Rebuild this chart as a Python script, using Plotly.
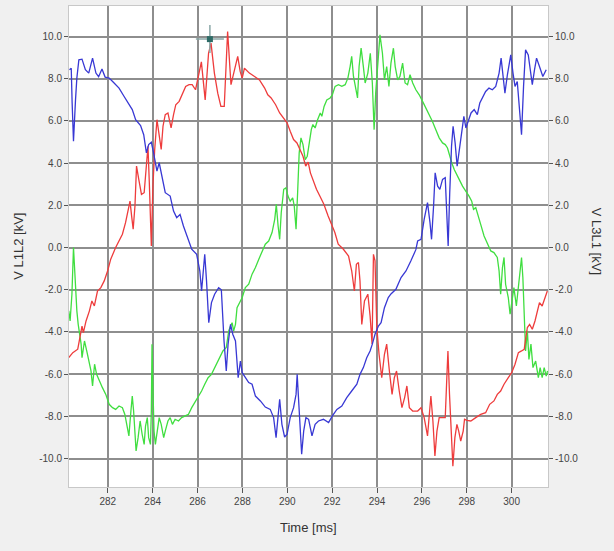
import plotly.graph_objects as go

# ---- data (time in ms, voltage in kV) ----
blue_t = [280.29, 280.37, 280.41, 280.47, 280.56, 280.62, 280.71, 280.85, 281.0, 281.15, 281.32, 281.47, 281.59, 281.74, 281.88,
          282.06, 282.28, 282.5, 282.72, 282.94, 283.09, 283.24, 283.46, 283.6, 283.72, 283.82, 283.94, 284.04, 284.19, 284.29,
          284.41, 284.56, 284.78, 284.93, 285.07, 285.22, 285.37, 285.59, 285.74, 285.96, 286.1, 286.18, 286.25, 286.32, 286.4,
          286.5, 286.62, 286.76, 286.94, 287.06, 287.18, 287.28, 287.36, 287.47, 287.57, 287.69, 287.81, 287.91, 287.99, 288.13,
          288.28, 288.43, 288.58, 288.8, 289.02, 289.24, 289.39, 289.5, 289.59, 289.66, 289.76, 289.88, 289.99, 290.13, 290.28,
          290.39, 290.44, 290.5, 290.58, 290.64, 290.73, 290.83, 290.95, 291.1, 291.24, 291.39, 291.61, 291.84, 292.01, 292.21,
          292.43, 292.65, 292.87, 293.1, 293.24, 293.39, 293.54, 293.69, 293.79, 293.91, 294.06, 294.18, 294.33, 294.5, 294.62,
          294.84, 295.07, 295.29, 295.51, 295.73, 295.81, 295.96, 296.1, 296.25, 296.36, 296.43, 296.52, 296.59, 296.7, 296.8,
          296.92, 297.04, 297.1, 297.17, 297.24, 297.32, 297.39, 297.48, 297.57, 297.66, 297.78, 297.87, 297.96, 298.07, 298.19,
          298.33, 298.47, 298.58, 298.7, 298.84, 298.99, 299.14, 299.29, 299.44, 299.53, 299.61, 299.7, 299.81, 299.96, 300.06,
          300.15, 300.25, 300.36, 300.44, 300.53, 300.62, 300.74, 300.84, 300.92, 301.02, 301.11, 301.24, 301.39, 301.54]
blue_v = [8.43, 8.5, 6.85, 5.04, 7.0, 8.03, 8.9, 8.93, 8.43, 8.27, 8.98, 8.27, 8.1, 8.46, 8.08,
          8.03, 7.8, 7.56, 7.17, 6.77, 6.54, 6.06, 5.78, 5.35, 4.49, 4.88, 4.99, 4.49, 3.62, 4.02,
          3.39, 2.6, 2.44, 1.73, 1.42, 1.57, 1.02, 0.31, -0.08, -0.32, -1.1, -2.06, -1.26, -0.32, -1.58,
          -3.56, -2.61, -2.21, -1.9, -2.0, -4.43, -5.85, -4.58, -3.64, -4.11, -4.43, -6.17, -5.38, -5.93, -6.17,
          -6.4, -6.48, -7.04, -7.27, -7.56, -7.67, -8.06, -9.01, -7.75, -7.19, -8.38, -8.98, -8.85, -8.06, -7.59,
          -6.96, -6.01, -7.27, -9.01, -9.8, -8.7, -8.06, -8.14, -8.93, -8.38, -8.22, -8.14, -8.3, -7.98, -7.67,
          -7.51, -7.11, -6.8, -6.48, -6.01, -5.69, -5.22, -4.9, -4.58, -4.11, -3.72, -3.56, -2.85, -2.37, -2.2,
          -1.98, -1.42, -1.11, -0.63, -0.1, 0.31, 0.39, 1.34, 2.13, 1.18, 0.39, 1.97, 3.54, 2.91, 2.76,
          3.23, 3.31, 1.81, 0.08, 2.6, 4.8, 5.75, 4.96, 3.86, 4.65, 5.59, 6.22, 5.67, 6.06, 6.38,
          6.54, 6.3, 6.85, 7.09, 7.4, 7.56, 7.48, 7.64, 8.27, 8.98, 8.03, 7.32, 8.19, 9.13, 8.27,
          7.64, 7.87, 6.54, 5.35, 7.64, 9.37, 9.13, 8.35, 7.72, 8.43, 8.98, 8.58, 8.11, 8.43]

red_t = [280.26, 280.44, 280.66, 280.76, 280.85, 280.91, 281.03, 281.18, 281.29, 281.4, 281.54, 281.69, 281.84, 281.99, 282.13,
         282.35, 282.5, 282.65, 282.79, 282.91, 282.99, 283.06, 283.13, 283.21, 283.28, 283.38, 283.5, 283.62, 283.71, 283.79,
         283.85, 283.94, 284.01, 284.09, 284.19, 284.29, 284.38, 284.46, 284.56, 284.68, 284.82, 284.93, 285.03, 285.18, 285.32,
         285.47, 285.62, 285.76, 285.91, 286.03, 286.17, 286.34, 286.49, 286.6, 286.75, 286.9, 287.04, 287.19, 287.34, 287.49,
         287.64, 287.79, 287.9, 287.99, 288.09, 288.31, 288.54, 288.76, 288.99, 289.13, 289.28, 289.48, 289.66, 289.84, 289.99,
         290.13, 290.28, 290.43, 290.55, 290.7, 290.82, 290.93, 291.03, 291.15, 291.3, 291.45, 291.63, 291.82, 291.97, 292.12,
         292.27, 292.5, 292.73, 292.87, 292.99, 293.08, 293.17, 293.24, 293.32, 293.44, 293.59, 293.69, 293.78, 293.84, 293.91,
         293.99, 294.09, 294.21, 294.33, 294.43, 294.55, 294.67, 294.77, 294.87, 294.99, 295.11, 295.23, 295.33, 295.44, 295.59,
         295.81, 295.96, 296.1, 296.25, 296.4, 296.49, 296.58, 296.67, 296.77, 296.92, 297.04, 297.11, 297.16, 297.23, 297.32,
         297.38, 297.47, 297.56, 297.64, 297.73, 297.84, 297.9, 298.0, 298.18, 298.4, 298.62, 298.84, 299.02, 299.21, 299.36,
         299.51, 299.66, 299.85, 300.0, 300.15, 300.3, 300.44, 300.56, 300.62, 300.7, 300.8, 300.92, 301.04, 301.14, 301.24,
         301.36, 301.48, 301.59]
red_v = [-5.22, -4.98, -4.82, -4.19, -3.72, -4.03, -3.48, -3.0, -2.53, -2.77, -2.06, -1.9, -1.58, -1.11, -0.55,
         0.0, 0.31, 0.63, 1.18, 1.89, 2.2, 1.5, 0.87, 1.97, 3.86, 3.23, 2.52, 2.6, 4.02, 4.8,
         3.07, 0.08, 2.91, 4.65, 6.06, 5.28, 4.65, 5.75, 6.3, 6.38, 5.67, 6.3, 6.77, 6.93, 7.32,
         7.64, 7.72, 7.72, 7.48, 8.11, 8.8, 7.0, 9.21, 9.69, 8.27, 7.32, 6.69, 6.69, 10.24, 7.72,
         8.35, 9.06, 8.35, 8.03, 8.5, 8.27, 8.11, 7.95, 7.56, 7.24, 7.09, 6.77, 6.38, 6.14, 5.91,
         5.51, 5.12, 4.96, 4.65, 4.33, 3.86, 4.05, 3.54, 3.15, 2.76, 2.44, 2.05, 1.5, 1.1, 0.71,
         0.16, -0.08, -0.4, -1.1, -2.06, -0.79, -0.71, -1.58, -3.64, -2.53, -2.21, -3.24, -4.58, -0.32, -0.63,
         -3.79, -5.06, -6.17, -5.06, -4.58, -5.85, -6.96, -6.17, -5.85, -6.8, -7.59, -7.11, -6.56, -7.59, -7.75,
         -7.75, -7.59, -8.06, -8.93, -7.04, -8.22, -9.88, -8.7, -8.06, -8.06, -8.06, -6.17, -4.9, -6.96, -9.33,
         -10.36, -9.01, -8.38, -8.7, -9.17, -8.7, -8.14, -8.19, -8.22, -8.06, -7.91, -7.83, -7.43, -7.27, -6.96,
         -6.8, -6.48, -6.17, -5.93, -5.53, -4.98, -4.9, -4.82, -4.35, -3.79, -3.64, -3.87, -3.48, -3.0, -2.61,
         -2.77, -2.37, -2.06]

green_t = [280.26, 280.32, 280.4, 280.44, 280.47, 280.51, 280.56, 280.62, 280.68, 280.74, 280.81, 280.85, 280.96, 281.06, 281.15,
           281.25, 281.32, 281.41, 281.5, 281.62, 281.76, 281.91, 282.06, 282.21, 282.35, 282.5, 282.65, 282.76, 282.87, 282.94,
           283.03, 283.09, 283.15, 283.21, 283.26, 283.35, 283.44, 283.53, 283.62, 283.68, 283.76, 283.82, 283.9, 283.94, 283.97,
           284.0, 284.06, 284.12, 284.19, 284.29, 284.38, 284.49, 284.56, 284.68, 284.78, 284.88, 285.0, 285.15, 285.29, 285.44,
           285.59, 285.74, 285.88, 286.03, 286.18, 286.32, 286.47, 286.62, 286.76, 286.91, 287.03, 287.13, 287.28, 287.39, 287.47,
           287.54, 287.61, 287.69, 287.76, 287.84, 287.99, 288.13, 288.28, 288.43, 288.58, 288.73, 288.87, 289.02, 289.17, 289.32,
           289.44, 289.51, 289.59, 289.66, 289.73, 289.84, 289.94, 290.03, 290.13, 290.24, 290.31, 290.39, 290.46, 290.53, 290.61,
           290.7, 290.8, 290.89, 290.98, 291.07, 291.14, 291.24, 291.35, 291.47, 291.54, 291.64, 291.76, 291.91, 292.01, 292.13,
           292.28, 292.43, 292.58, 292.7, 292.8, 292.87, 292.95, 293.02, 293.13, 293.2, 293.29, 293.39, 293.47, 293.59, 293.7,
           293.79, 293.87, 293.94, 294.03, 294.13, 294.24, 294.33, 294.43, 294.53, 294.62, 294.73, 294.81, 294.92, 295.02, 295.14,
           295.25, 295.36, 295.47, 295.59, 295.73, 295.88, 296.03, 296.18, 296.33, 296.47, 296.62, 296.77, 296.92, 297.04, 297.14,
           297.24, 297.33, 297.44, 297.54, 297.66, 297.81, 297.96, 298.1, 298.22, 298.3, 298.4, 298.52, 298.62, 298.77, 298.92,
           299.07, 299.21, 299.36, 299.44, 299.51, 299.59, 299.66, 299.73, 299.85, 299.93, 300.0, 300.1, 300.21, 300.3, 300.37,
           300.44, 300.5, 300.56, 300.62, 300.7, 300.77, 300.86, 300.95, 301.07, 301.19, 301.27, 301.36, 301.45, 301.54, 301.6]
green_v = [-3.0, -3.48, -2.21, -0.79, 0.0, -0.79, -2.06, -3.0, -3.64, -4.11, -4.58, -5.22, -4.43, -4.9, -5.38,
           -5.85, -6.56, -5.53, -6.01, -6.32, -6.64, -6.96, -7.43, -7.59, -7.67, -7.51, -7.59, -7.91, -8.54, -8.93,
           -7.75, -7.04, -7.75, -8.85, -9.64, -9.01, -8.22, -8.85, -9.33, -8.46, -8.06, -9.01, -9.33, -7.75, -4.58,
           -6.17, -8.7, -9.33, -8.85, -8.06, -8.38, -9.01, -8.7, -8.22, -8.06, -8.38, -8.14, -8.22, -8.06, -7.98,
           -7.91, -7.59, -7.35, -7.11, -6.8, -6.48, -6.17, -6.01, -5.69, -5.38, -5.06, -4.9, -4.74, -3.95, -3.72,
           -3.56, -3.95, -3.64, -2.85, -2.69, -2.37, -1.9, -1.74, -1.26, -0.95, -0.55, -0.16, 0.16, 0.31, 0.71,
           1.34, 2.05, 1.02, 0.39, 1.65, 2.76, 2.83, 2.44, 2.2, 2.36, 1.97, 0.87, 2.6, 4.49, 5.2,
           4.88, 4.17, 4.33, 4.96, 5.59, 5.83, 5.67, 6.06, 6.38, 6.22, 6.69, 7.0, 7.09, 7.24, 7.64,
           7.72, 7.64, 7.72, 8.03, 8.58, 9.06, 8.11, 7.64, 7.09, 8.58, 9.45, 8.58, 7.8, 8.27, 9.21,
           7.8, 5.59, 7.32, 8.9, 10.08, 9.21, 7.95, 8.58, 7.64, 8.74, 9.45, 8.58, 7.95, 8.11, 8.74,
           7.8, 7.72, 8.19, 7.8, 7.48, 7.24, 6.93, 6.61, 6.3, 5.98, 5.59, 5.2, 4.96, 4.88, 4.72,
           4.33, 4.02, 3.7, 3.46, 3.23, 2.91, 2.68, 2.44, 2.2, 1.81, 1.89, 1.5, 1.1, 0.55, 0.16,
           -0.16, -0.24, -0.47, -1.11, -2.21, -0.95, -0.47, -1.74, -2.37, -3.16, -2.53, -1.9, -2.77, -1.9, -1.42,
           -0.47, -1.42, -3.32, -4.9, -3.95, -5.3, -4.58, -5.69, -5.38, -6.17, -5.69, -6.17, -5.69, -6.09, -5.85]

cursor_t = [286.55]
cursor_v = [9.88]

x_ticks = [282, 284, 286, 288, 290, 292, 294, 296, 298, 300]
y_ticks = [-10, -8, -6, -4, -2, 0, 2, 4, 6, 8, 10]
x_range = [280.27, 301.62]
y_range = [-11.35, 11.45]

fig = go.Figure()
fig.add_trace(go.Scatter(x=green_t, y=green_v, mode="lines", line=dict(color="#40de40", width=1.3),
                         showlegend=False))
fig.add_trace(go.Scatter(x=red_t, y=red_v, mode="lines", line=dict(color="#ee3c3c", width=1.3),
                         showlegend=False))
fig.add_trace(go.Scatter(x=blue_t, y=blue_v, mode="lines", line=dict(color="#3838d4", width=1.3),
                         showlegend=False))
# cursor marker, drawn on the right-hand (same scale) axis
fig.add_trace(go.Scatter(x=cursor_t, y=cursor_v, yaxis="y2", mode="markers",
                         marker=dict(symbol="cross-thin", size=20, line=dict(color="#8aa8a8", width=1.5)),
                         showlegend=False, cliponaxis=False, hoverinfo="skip"))
fig.add_trace(go.Scatter(x=cursor_t, y=cursor_v, yaxis="y2", mode="markers",
                         marker=dict(symbol="square", size=6, color="#2d6b66"),
                         showlegend=False, cliponaxis=False, hoverinfo="skip"))

font = "Liberation Sans, Arial, sans-serif"
axis_common = dict(showgrid=True, gridcolor="#8e8e8e", gridwidth=1.5, zeroline=False,
                   ticks="outside", tickcolor="#555", tickwidth=1, automargin=False,
                   tickfont=dict(family=font, size=10, color="#444"),
                   showline=True, linecolor="#c8c8c8", linewidth=1)

fig.update_layout(
    width=614, height=551,
    margin=dict(l=69, r=66, t=6, b=64),
    paper_bgcolor="#f0f0f0", plot_bgcolor="#ffffff",
    xaxis=dict(range=x_range, tickvals=x_ticks, ticktext=[str(v) for v in x_ticks], ticklen=5,
               mirror=True, **axis_common),
    yaxis=dict(range=y_range, tickvals=y_ticks, ticktext=[f"{v:.1f}" for v in y_ticks], ticklen=4,
               **axis_common),
    yaxis2=dict(range=y_range, tickvals=y_ticks, ticktext=[f"{v:.1f}" for v in y_ticks], ticklen=4,
                overlaying="y", side="right", **{**axis_common, "showgrid": False}),
    annotations=[
        dict(text="Time [ms]", x=0.5, y=-0.085, xref="paper", yref="paper", showarrow=False,
             xanchor="center", yanchor="middle", font=dict(family=font, size=13, color="#333")),
        dict(text="V L1L2 [kV]", x=-0.106, y=0.5, xref="paper", yref="paper", showarrow=False,
             textangle=-90, xanchor="center", yanchor="middle", font=dict(family=font, size=13, color="#333")),
        dict(text="V L3L1 [kV]", x=1.1, y=0.51, xref="paper", yref="paper", showarrow=False,
             textangle=90, xanchor="center", yanchor="middle", font=dict(family=font, size=13, color="#333")),
    ],
)

fig.write_html("out.html", config={"displayModeBar": False},
               post_script="document.body.style.margin='0px';document.body.style.overflow='hidden';")
